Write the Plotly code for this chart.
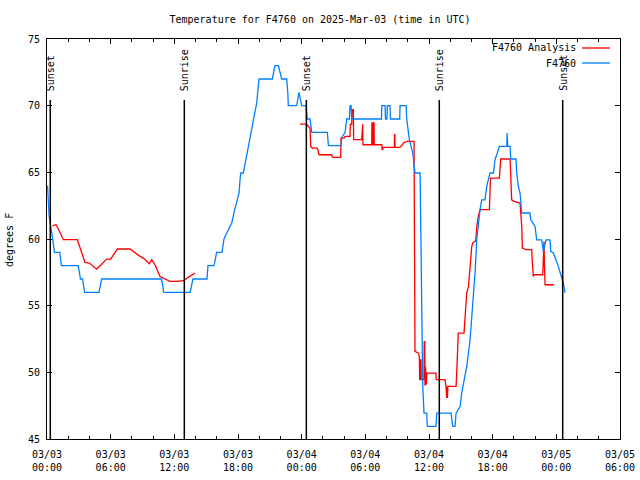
import pandas as pd
import plotly.graph_objects as go

# ---------------- data (hours after 2025-03-03 00:00 UTC, deg F) ----------------
obs_hours = [0.05, 0.20, 0.50, 0.70, 1.20, 1.35, 2.95, 3.15, 3.35, 3.55, 4.90, 5.15, 10.80, 11.00,
             13.50, 13.75, 15.08, 15.17, 15.74, 15.99, 16.49, 16.68, 16.94, 17.41, 17.65, 17.94,
             18.10, 18.19, 18.26, 18.50, 18.73, 18.97, 19.23, 19.44, 19.76, 19.98, 21.23, 21.49,
             21.80, 22.12, 22.59, 22.69, 22.74, 23.53, 23.75, 24.00, 24.41, 24.53, 24.79, 24.95,
             26.42, 26.52, 27.71, 27.77, 28.09, 28.25, 28.50, 28.56, 28.65, 28.72, 31.52, 31.55,
             31.86, 31.90, 32.04, 32.07, 32.33, 32.37, 33.24, 33.27, 33.84, 33.90, 34.15, 34.47,
             34.68, 35.16, 35.22, 35.31, 35.41, 35.53, 35.79, 35.84, 36.66, 36.73, 38.08, 38.24,
             38.45, 38.55, 38.93, 39.08, 39.40, 39.56, 39.87, 40.03, 40.18, 40.34, 40.50, 40.72,
             40.81, 40.97, 41.28, 41.44, 41.75, 42.07, 42.22, 42.44, 42.63, 43.33, 43.36, 43.42,
             43.64, 43.70, 44.20, 44.27, 44.42, 44.58, 44.67, 44.74, 45.52, 45.59, 45.99, 46.15,
             46.62, 46.78, 47.03, 47.41, 47.47, 47.72, 48.04, 48.35, 48.66, 48.82]
obs_temp = [64.0, 61.75, 60.2, 59.0, 59.0, 58.0, 58.0, 57.0, 57.0, 56.0, 56.0, 57.0, 57.0, 56.0,
            56.0, 57.0, 57.0, 58.0, 58.0, 59.0, 59.0, 60.0, 60.45, 61.2, 62.07, 62.94,
            63.45, 64.45, 64.95, 64.95, 65.95, 66.95, 67.95, 68.95, 70.2, 72.0, 72.0, 73.0,
            73.0, 72.0, 72.0, 71.0, 70.0, 70.0, 71.0, 70.0, 70.0, 69.0, 69.0, 68.0,
            68.0, 67.0, 67.0, 67.6, 68.0, 69.0, 69.0, 70.0, 70.0, 69.0, 69.0, 70.0,
            70.0, 69.0, 69.0, 70.0, 70.0, 69.0, 69.0, 70.0, 70.0, 69.0, 67.45, 66.45,
            64.95, 64.95, 61.95, 53.94, 48.94, 46.94, 46.94, 45.94, 45.94, 46.94, 46.94, 45.94,
            45.94, 46.94, 47.44, 48.44, 49.94, 50.44, 52.44, 53.94, 55.94, 57.45, 59.94, 61.7,
            62.2, 62.94, 62.94, 63.94, 64.95, 64.95, 65.95, 66.45, 66.95, 66.95, 67.95, 66.95,
            66.95, 66.0, 66.0, 64.95, 63.94, 63.45, 62.7, 61.95, 61.95, 61.44, 60.94, 59.94,
            59.94, 59.07, 59.94, 59.94, 59.07, 58.95, 58.3, 57.57, 56.7, 55.95]

ana_hours = [0.53, 0.85, 1.07, 1.54, 2.86, 3.11, 3.58, 3.99, 4.36, 4.68, 5.00, 5.63, 6.00, 6.63,
             7.82, 8.29, 8.77, 9.08, 9.64, 9.87, 10.18, 10.65, 10.96, 11.59, 12.22, 12.85, 13.32,
             13.64, 13.95, 19.00,
             23.85, 24.47, 24.63, 24.79, 24.85, 25.00, 25.48, 25.64, 26.83, 26.93, 27.68, 27.70,
             28.00, 28.09, 28.56, 28.58, 28.72, 28.75, 28.87, 28.90, 29.66, 29.70, 29.75, 29.78,
             30.60, 30.62, 30.68, 30.70, 30.75, 30.77, 30.82, 30.84, 31.55, 31.58, 31.64, 31.66,
             32.73, 32.75, 32.78, 32.80, 33.27, 33.65, 33.96, 34.59, 34.62, 34.68, 35.00, 35.09,
             35.12, 35.16, 35.20, 35.25, 35.27, 35.53, 35.55, 35.60, 35.62, 35.65, 35.67, 35.70,
             35.75, 35.80, 36.66, 36.68, 37.51, 37.60, 37.67, 37.70, 37.74, 37.78, 38.55, 38.61,
             38.76, 39.30, 39.40, 39.55, 39.72, 39.87, 40.03, 40.12, 40.28, 40.40, 40.50, 40.65,
             40.81, 41.69, 41.75, 41.80, 42.63, 42.69, 42.76, 43.64, 43.70, 43.79, 44.00, 44.58,
             44.74, 44.80, 45.12, 45.68, 45.74, 45.83, 45.88, 46.72, 46.78, 46.84, 46.88, 46.94,
             47.78]
ana_temp = [61.0, 61.07, 60.75, 59.95, 59.95, 59.32, 58.24, 58.2, 57.94, 57.74, 57.99, 58.49, 58.49, 59.25,
            59.25, 58.95, 58.7, 58.57, 58.14, 58.44, 58.07, 57.19, 57.07, 56.82, 56.82, 56.87, 57.12,
            57.32, 57.45, None,
            68.62, 68.62, 68.44, 68.32, 66.94, 66.82, 66.82, 66.32, 66.32, 66.12, 66.12, 67.57,
            67.57, 67.7, 67.7, 68.6, 68.6, 69.7, 69.7, 67.45, 67.45, 68.6, 68.6, 67.07,
            67.07, 68.7, 68.7, 67.07, 67.07, 68.7, 68.7, 67.07, 67.07, 66.7, 66.7, 66.87,
            66.87, 67.82, 67.82, 66.87, 66.87, 67.24, 67.32, 67.32, 59.44, 51.57, 51.44, 51.2,
            49.45, 49.45, 50.94, 50.94, 49.45, 49.45, 52.3, 52.3, 49.07, 49.07, 50.44, 49.94,
            49.07, 49.94, 49.94, 49.45, 49.45, 48.94, 48.07, 48.94, 48.07, 48.94, 48.94, 49.94,
            52.94, 52.94, 53.94, 55.94, 56.44, 57.94, 59.44, 59.7, 59.82, 59.82, 60.94, 61.7,
            62.2, 62.2, 63.45, 64.57, 64.57, 65.32, 66.0, 66.0, 64.45, 62.94, 62.82, 62.7,
            60.94, 59.32, 59.2, 59.2, 58.2, 57.19, 57.32, 57.32, 58.44, 59.82, 58.0, 56.57,
            56.57]

sun_labels = ["Sunset", "Sunrise", "Sunset", "Sunrise", "Sunset"]
sun_hours = [0.31, 12.94, 24.44, 36.97, 48.60]

tick_hours = [0, 6, 12, 18, 24, 30, 36, 42, 48, 54]
tick_labels = ["03/03<br>00:00", "03/03<br>06:00", "03/03<br>12:00", "03/03<br>18:00",
               "03/04<br>00:00", "03/04<br>06:00", "03/04<br>12:00", "03/04<br>18:00",
               "03/05<br>00:00", "03/05<br>06:00"]
y_ticks = [45, 50, 55, 60, 65, 70, 75]

title_text = "Temperature for F4760 on 2025-Mar-03 (time in UTC)"
y_title = "degrees F"
ana_name = "F4760 Analysis"
obs_name = "F4760"

# ---------------- figure ----------------
base = pd.Timestamp("2025-03-03 00:00")


def to_time(hs):
    return [base + pd.Timedelta(hours=h) for h in hs]


FONT = "DejaVu Sans Mono"
RED = "#FF0000"
BLUE = "#0080FF"
L, R, T, B = 47, 20, 39, 41
PW, PH = 640 - L - R, 480 - T - B


def px(xp):
    return (xp - L) / PW


def py(yp):
    return (480 - B - yp) / PH


fig = go.Figure()
fig.add_trace(go.Scatter(x=to_time(ana_hours), y=ana_temp, mode="lines", name=ana_name,
                         line=dict(color=RED, width=1.3), connectgaps=False, showlegend=False))
fig.add_trace(go.Scatter(x=to_time(obs_hours), y=obs_temp, mode="lines", name=obs_name,
                         line=dict(color=BLUE, width=1.3), showlegend=False))

# sunrise / sunset markers
for lab, h in zip(sun_labels, sun_hours):
    tt = base + pd.Timedelta(hours=h)
    fig.add_shape(type="line", xref="x", yref="paper", x0=tt, x1=tt, y0=0, y1=py(100),
                  line=dict(color="black", width=1.5))
    fig.add_annotation(x=tt, xref="x", y=py(93), yref="paper", text=lab, textangle=-90,
                       showarrow=False, xanchor="center", yanchor="bottom",
                       font=dict(family=FONT, size=10, color="black"))

# legend (gnuplot style: text then sample)
for i, (name, col) in enumerate([(ana_name, RED), (obs_name, BLUE)]):
    ypx = 48 + 15 * i
    fig.add_annotation(x=px(578), xref="paper", y=py(ypx), yref="paper", text=name,
                       showarrow=False, xanchor="right", yanchor="middle",
                       font=dict(family=FONT, size=10, color="black"))
    fig.add_shape(type="line", xref="paper", yref="paper", x0=px(582), x1=px(610),
                  y0=py(ypx), y1=py(ypx), line=dict(color=col, width=1.3))

# y axis title
fig.add_annotation(x=px(10), xref="paper", y=py(240), yref="paper", text=y_title,
                   textangle=-90, showarrow=False, xanchor="center", yanchor="middle",
                   font=dict(family=FONT, size=10, color="black"))

fig.update_layout(
    width=640, height=480,
    margin=dict(l=L, r=R, t=T, b=B, autoexpand=False),
    paper_bgcolor="white", plot_bgcolor="white",
    font=dict(family=FONT, size=10, color="black"),
    title=dict(text=title_text, x=0.5, xanchor="center", xref="container", y=1 - 19 / 480,
               yanchor="middle", font=dict(family=FONT, size=10, color="black")),
    xaxis=dict(range=[base, base + pd.Timedelta(hours=54)], automargin=False,
               tickmode="array", tickvals=to_time(tick_hours), ticktext=tick_labels,
               ticks="inside", ticklen=5, tickcolor="black", showgrid=False, zeroline=False,
               showline=True, linecolor="black", linewidth=1, mirror="allticks",
               ticklabelstandoff=6,
               minor=dict(ticks="inside", ticklen=3, dtick=2 * 3600 * 1000, tickcolor="black",
                          showgrid=False),
               tickfont=dict(family=FONT, size=10)),
    yaxis=dict(range=[45, 75], tickmode="array", tickvals=y_ticks, automargin=False,
               ticks="inside", ticklen=5, tickcolor="black", showgrid=False, zeroline=False,
               showline=True, linecolor="black", linewidth=1, mirror="allticks",
               ticklabelstandoff=4,
               tickfont=dict(family=FONT, size=10)),
)

fig.write_html("out.html", config={"displayModeBar": False},
               post_script="document.body.style.margin='0';")
